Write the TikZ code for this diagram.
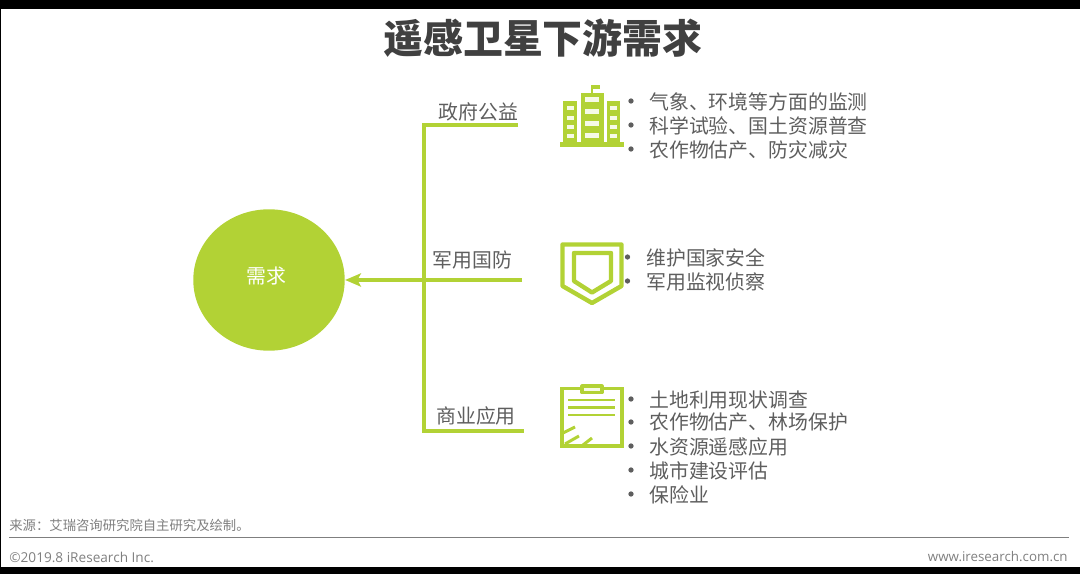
\documentclass[tikz,border=0pt]{standalone}
\usepackage{fontspec}
\setmainfont{Noto Sans CJK SC}
\newfontfamily\latinfont{Open Sans}
\usetikzlibrary{shapes.geometric,arrows.meta}
\definecolor{leaf}{HTML}{B2D235}
\definecolor{inktext}{HTML}{5E5E5E}
\definecolor{graytext}{HTML}{7F7F7F}
\tikzset{
  branchline/.style={draw=leaf,line width=2.6pt},
  labeltext/.style={text=inktext,font=\fontsize{11.3}{14}\selectfont,inner sep=0pt},
  itemtext/.style={text=inktext,font=\fontsize{11.3}{13.6}\selectfont,inner sep=0pt,anchor=west},
  bulletdot/.style={circle,fill=inktext,inner sep=0pt,minimum size=3pt},
  iconline/.style={draw=leaf,line width=2.5pt,line join=round},
  iconthin/.style={draw=leaf,line width=1.7pt},
  iconfill/.style={fill=leaf},
  iconhole/.style={fill=white!88!leaf},
  footertext/.style={text=graytext,inner sep=0pt},
}
\begin{document}
\begin{tikzpicture}[x=0.02cm,y=-0.02cm]
  \useasboundingbox (0,0) rectangle (1080,574);
  % frame
  \fill[black] (0,0) rectangle (1080,9.5);
  \fill[black] (0,567) rectangle (1080,574);
  \fill[black] (0,0) rectangle (1.2,574);
  % title
  \node[text=black!75,font=\fontsize{22.75}{26}\selectfont\bfseries,inner sep=0pt] (title) at (543,38) {遥感卫星下游需求};
  % center
  \node[ellipse,fill=leaf,minimum width=86.2pt,minimum height=80.5pt,inner sep=0pt] (need) at (269,280) {};
  \node[text=white,font=\fontsize{11.3}{14}\selectfont,inner sep=0pt] (needtext) at (266,276) {需求};
  % branches
  \node[labeltext] (gov) at (478.5,112) {政府公益};
  \node[labeltext] (mil) at (472.5,260) {军用国防};
  \node[labeltext] (biz) at (476,416) {商业应用};
  \coordinate (govend) at (518,125);
  \coordinate (govcorner) at (424,125);
  \coordinate (bizcorner) at (424,431);
  \coordinate (bizend) at (524,431);
  \coordinate (milend) at (522,280);
  \draw[branchline,line join=miter] (govend) -- (govcorner) -- (bizcorner) -- (bizend);
  \draw[branchline,-{Stealth[length=9pt,width=7.5pt,inset=2pt]}] (milend) -- (need.east);
  % building icon
  \fill[iconfill] (560,142) rectangle (624,147.5);
  \fill[iconfill] (563,101) rectangle (577,142);
  \fill[iconfill] (581,93) rectangle (604,142);
  \fill[iconfill] (607,101) rectangle (620,142);
  \foreach \yy in {106,116,125,134}{
    \fill[iconhole] (567,\yy) rectangle (574,\yy+4.5);
    \fill[iconhole] (610,\yy) rectangle (617,\yy+4.5);
  }
  \foreach \yy in {97,109,121,133}{
    \fill[iconhole] (585,\yy) rectangle (599,\yy+5);
  }
  \draw[leaf,line width=0.8pt] (592,93) -- (592,85);
  \fill[iconfill] (591.5,85) rectangle (600,89);
  % shield icon
  \draw[iconline] (562.5,244.5) -- (621.5,244.5) -- (621.5,286) -- (592,303) -- (562.5,286) -- cycle;
  \draw[iconline] (574,253) -- (611,253) -- (611,281) -- (592,292.5) -- (574,281) -- cycle;
  % clipboard icon
  \draw[iconline,line width=2.2pt,line join=miter] (562,388.5) rectangle (622,446);
  \draw[iconline,line width=1.8pt,fill=white!88!leaf] (582,386) rectangle (602,392.5);
  \draw[iconthin] (568,400) -- (615,400);
  \draw[iconthin] (568,407.5) -- (615,407.5);
  \draw[iconthin] (568,415) -- (615,415);
  \draw[iconthin] (563,433) -- (575,427);
  \draw[iconthin] (565,444) -- (579,436);
  \draw[iconthin] (583,445) -- (592,438);
  % bullets
  \foreach \nm/\yy in {a/101,b/125,c/149}{
    \node[bulletdot] (dot\nm) at (631,\yy) {};
  }
  \foreach \nm/\yy in {d/257,e/281}{
    \node[bulletdot] (dot\nm) at (627.5,\yy) {};
  }
  \foreach \nm/\yy in {f/399,g/422,h/446,i/470,j/494}{
    \node[bulletdot] (dot\nm) at (631,\yy) {};
  }
  % lists
  \node[itemtext] (itema) at (649,101.5) {气象、环境等方面的监测};
  \node[itemtext] (itemb) at (649,125.5) {科学试验、国土资源普查};
  \node[itemtext] (itemc) at (649,149.5) {农作物估产、防灾减灾};
  \node[itemtext] (itemd) at (646,258) {维护国家安全};
  \node[itemtext] (iteme) at (646,281.5) {军用监视侦察};
  \node[itemtext] (itemf) at (649,399.5) {土地利用现状调查};
  \node[itemtext] (itemg) at (649,422.5) {农作物估产、林场保护};
  \node[itemtext] (itemh) at (649,446.5) {水资源遥感应用};
  \node[itemtext] (itemi) at (649,470.5) {城市建设评估};
  \node[itemtext] (itemj) at (649,494.5) {保险业};
  % footer
  \node[footertext,font=\fontsize{7.6}{9}\selectfont,anchor=west] (source) at (9,525.5) {来源：艾瑞咨询研究院自主研究及绘制。};
  \coordinate (ruleleft) at (9,537.5);
  \coordinate (ruleright) at (1069,537.5);
  \draw[graytext,line width=1pt] (ruleleft) -- (ruleright);
  \node[footertext,font=\latinfont\fontsize{7.75}{9}\selectfont,anchor=west] (copy) at (9,557) {©2019.8 iResearch Inc.};
  \node[footertext,font=\latinfont\fontsize{7.6}{9}\selectfont,anchor=east] (site) at (1068,557) {www.iresearch.com.cn};
\end{tikzpicture}
\end{document}
